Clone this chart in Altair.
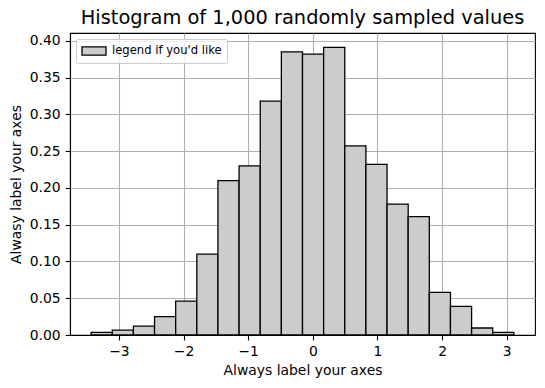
import altair as alt
import pandas as pd

# Bin edges (20 bins)
bin_edges = [-3.430, -3.103, -2.776, -2.449, -2.122, -1.795, -1.468, -1.141,
             -0.814, -0.487, -0.160, 0.167, 0.494, 0.821, 1.148, 1.475,
             1.802, 2.129, 2.456, 2.783, 3.110]
# Density height of each bin
densities = [0.0035, 0.0065, 0.012, 0.025, 0.046, 0.110, 0.210, 0.230,
             0.318, 0.385, 0.382, 0.391, 0.257, 0.232, 0.178, 0.161,
             0.058, 0.039, 0.0095, 0.0035]
series_name = "legend if you'd like"
x_ticks = [-3, -2, -1, 0, 1, 2, 3]
y_ticks = [0.00, 0.05, 0.10, 0.15, 0.20, 0.25, 0.30, 0.35, 0.40]

df = pd.DataFrame({
    "start": bin_edges[:-1],
    "end": bin_edges[1:],
    "density": densities,
    "base": [0.0] * len(densities),
    "series": [series_name] * len(densities),
})

FONT = "DejaVu Sans"

chart = alt.Chart(df).mark_rect(
    stroke="black", strokeWidth=1.3, fillOpacity=1
).encode(
    x=alt.X("start:Q",
            scale=alt.Scale(domain=[-3.757, 3.437], nice=False, zero=False),
            axis=alt.Axis(values=x_ticks, format="d", title="Always label your axes",
                          titlePadding=5, labelPadding=4.9)),
    x2="end:Q",
    y=alt.Y("density:Q",
            scale=alt.Scale(domain=[0, 0.4106], nice=False),
            axis=alt.Axis(values=y_ticks, format=".2f", title="Alwasy label your axes",
                          titlePadding=6, labelPadding=4.9)),
    y2="base:Q",
    color=alt.Color("series:N",
                    scale=alt.Scale(range=["#cccccc"]),
                    legend=alt.Legend(title=None, orient="top-left", offset=6,
                                      symbolType="M-2,-0.7H2V0.7H-2Z",
                                      symbolSize=144, symbolOffset=6,
                                      symbolStrokeColor="black",
                                      symbolStrokeWidth=1.3,
                                      symbolFillColor="#cccccc",
                                      symbolOpacity=1,
                                      labelOffset=11,
                                      labelFontSize=11.6, labelFont=FONT,
                                      labelColor="black",
                                      padding=5, strokeColor="#cccccc",
                                      fillColor="rgba(255,255,255,0.8)",
                                      cornerRadius=2)),
).properties(
    width=465, height=302,
    background="white",
    title=alt.TitleParams("Histogram of 1,000 randomly sampled values",
                          fontSize=19.4, font=FONT, fontWeight="normal",
                          anchor="middle", color="black", offset=8,
                          baseline="bottom", dy=22),
    autosize=alt.AutoSizeParams(type="none"),
    padding={"left": 70, "top": 33, "right": 10, "bottom": 53},
).configure_axis(
    zindex=1,
    grid=True, gridColor="#b0b0b0", gridWidth=1.1,
    domainColor="black", domainWidth=1.1,
    tickColor="black", tickWidth=1.1, tickSize=4.9,
    labelFont=FONT, labelFontSize=13.9, labelColor="black",
    titleFont=FONT, titleFontSize=13.9, titleColor="black", titleFontWeight="normal",
).configure_view(
    stroke="black", strokeWidth=1.1
)

chart.save("out.html", embed_options={"renderer": "svg", "actions": False})
